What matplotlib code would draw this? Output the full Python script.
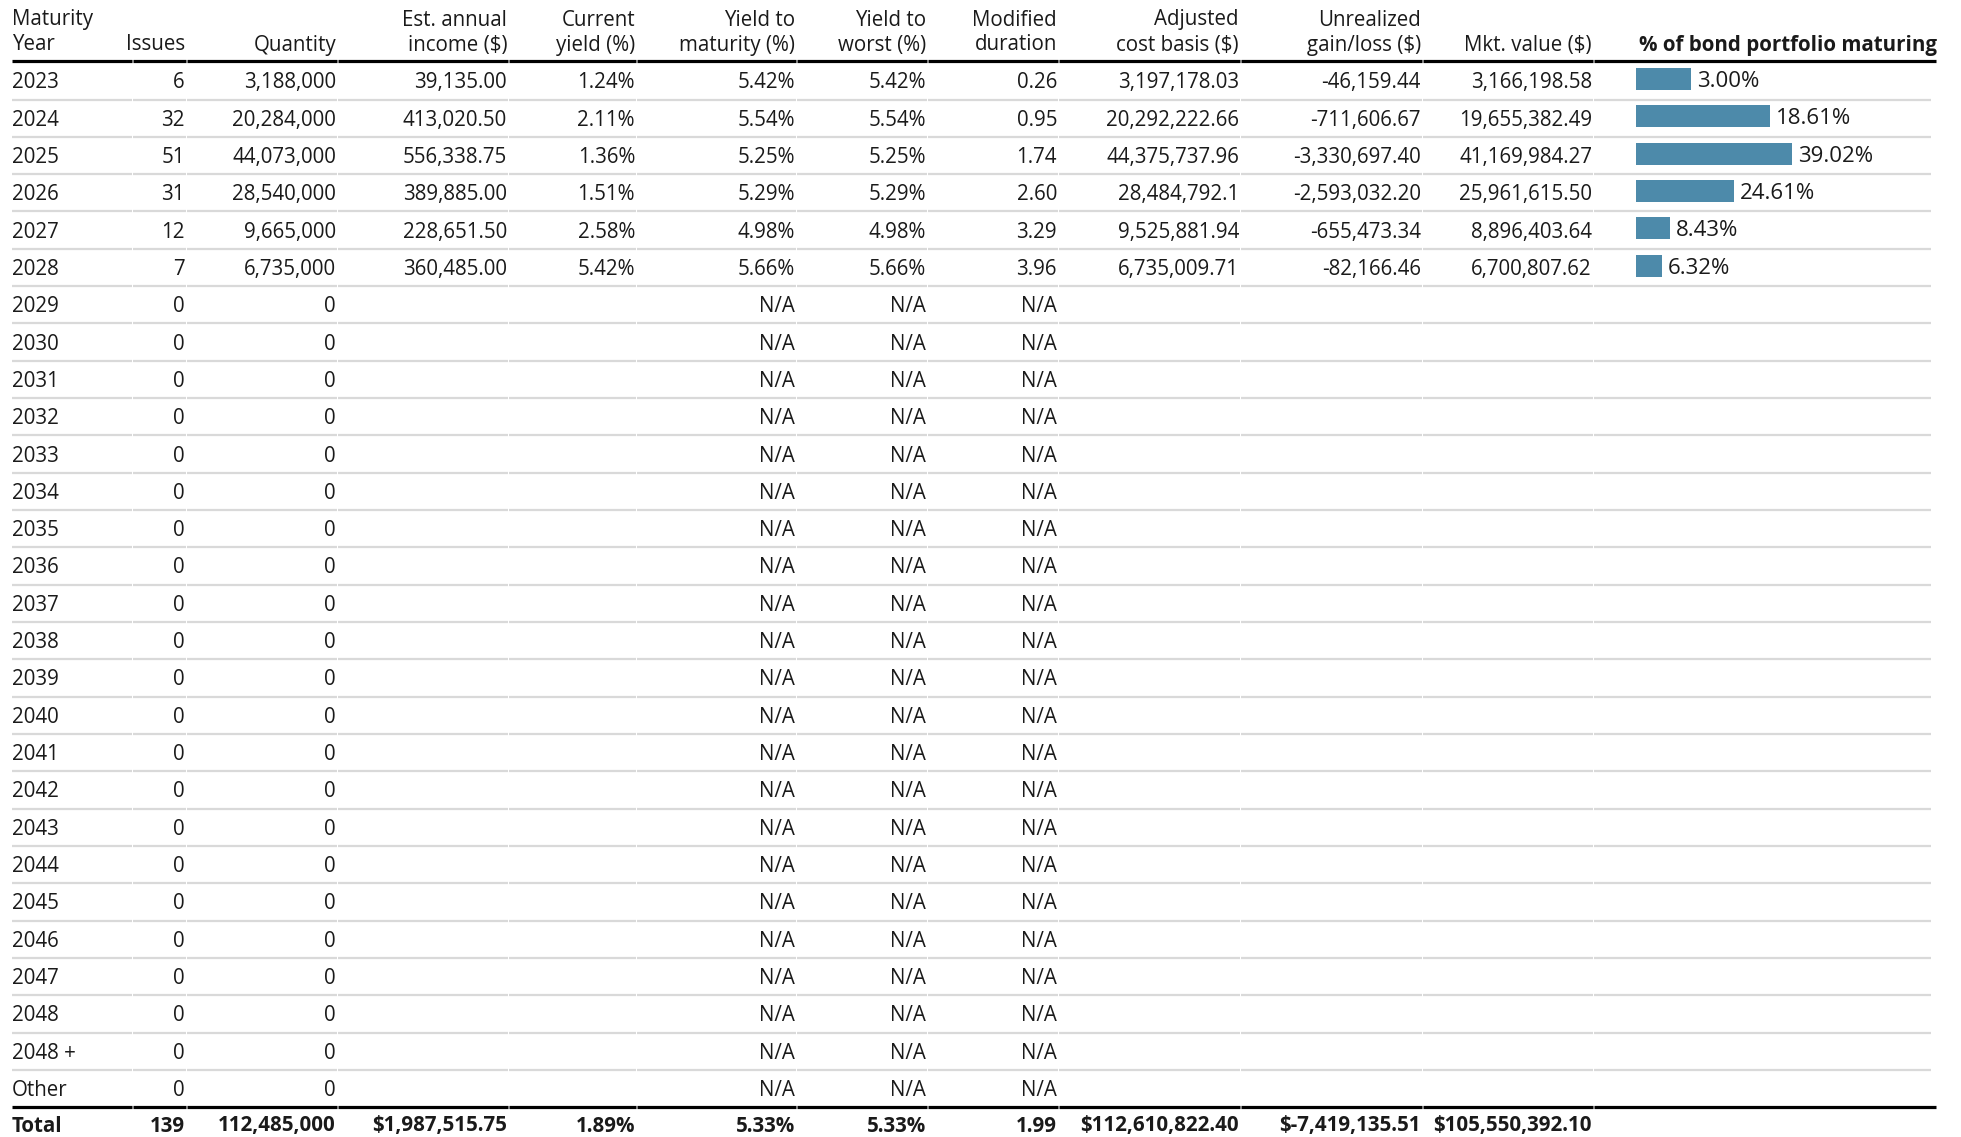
import matplotlib.pyplot as plt

# ---- data ----
years = [str(y) for y in range(2023, 2049)] + ['2048 +', 'Other']
issues = [6, 32, 51, 31, 12, 7] + [0] * 22
quantity = [3188000, 20284000, 44073000, 28540000, 9665000, 6735000] + [0] * 22
est_income = [39135.00, 413020.50, 556338.75, 389885.00, 228651.50, 360485.00]
current_yield = [1.24, 2.11, 1.36, 1.51, 2.58, 5.42]
ytm = [5.42, 5.54, 5.25, 5.29, 4.98, 5.66]
ytw = [5.42, 5.54, 5.25, 5.29, 4.98, 5.66]
mod_duration = [0.26, 0.95, 1.74, 2.60, 3.29, 3.96]
adj_cost = [3197178.03, 20292222.66, 44375737.96, 28484792.10, 9525881.94, 6735009.71]
unrealized = [-46159.44, -711606.67, -3330697.40, -2593032.20, -655473.34, -82166.46]
mkt_value = [3166198.58, 19655382.49, 41169984.27, 25961615.50, 8896403.64, 6700807.62]
pct_maturing = [3.00, 18.61, 39.02, 24.61, 8.43, 6.32]
bar_length = [13.75, 33.5, 39.0, 24.5, 8.5, 6.5]

totals = ['Total', '139', '112,485,000', '$1,987,515.75', '1.89%', '5.33%', '5.33%',
          '1.99', '$112,610,822.40', '$-7,419,135.51', '$105,550,392.10']

headers = [('Maturity', 'Year'), ('', 'Issues'), ('', 'Quantity'),
           ('Est. annual', 'income ($)'), ('Current', 'yield (%)'),
           ('Yield to', 'maturity (%)'), ('Yield to', 'worst (%)'),
           ('Modified', 'duration'), ('Adjusted', 'cost basis ($)'),
           ('Unrealized', 'gain/loss ($)'), ('', 'Mkt. value ($)')]

# ---- layout (pixels) ----
W, H = 1961, 1137
x_left = 12
right_edges = [None, 185, 336, 507, 635, 795, 926, 1057, 1239, 1421, 1592]
cell_bounds = [12, 133, 187, 338, 509, 637, 797, 928, 1059, 1241, 1423, 1594, 1932]
row_top = 81.0
row_h = 37.33
bar_x0 = 1636
px_per_unit = 4.0
text_col = '#1a1a1a'
bar_col = '#4d8aaa'
fs = 14.8

plt.rcParams['font.family'] = ['Open Sans', 'DejaVu Sans']

fig = plt.figure(figsize=(W / 100, H / 100), dpi=100)
ax = fig.add_axes([0, 0, 1, 1])
ax.set_xlim(0, W)
ax.set_ylim(H, 0)
ax.axis('off')


def fmt_money(v):
    return f'{v:,.2f}'


def row_cells(i):
    n = len(est_income)
    if i < n:
        return [years[i], str(issues[i]), f'{quantity[i]:,}', fmt_money(est_income[i]),
                f'{current_yield[i]:.2f}%', f'{ytm[i]:.2f}%', f'{ytw[i]:.2f}%',
                f'{mod_duration[i]:.2f}', fmt_money(adj_cost[i]).rstrip('0'),
                fmt_money(unrealized[i]), fmt_money(mkt_value[i])]
    return [years[i], str(issues[i]), f'{quantity[i]:,}', '', '', 'N/A', 'N/A', 'N/A',
            '', '', '']


def hline(y, color, lw, end):
    # each cell has its own border, leaving tiny gaps between columns
    bounds = cell_bounds[:-1] + [end]
    for a, b in zip(bounds[:-1], bounds[1:]):
        ax.plot([a, b - 1], [y, y], color=color, lw=lw, solid_capstyle='butt')


# header
for c, (l1, l2) in enumerate(headers):
    if c == 0:
        ax.text(x_left, 25.5, l1, ha='left', va='baseline', fontsize=fs, color=text_col)
        ax.text(x_left, 50.5, l2, ha='left', va='baseline', fontsize=fs, color=text_col)
    else:
        ax.text(right_edges[c], 25.5, l1, ha='right', va='baseline', fontsize=fs, color=text_col)
        ax.text(right_edges[c], 50.5, l2, ha='right', va='baseline', fontsize=fs, color=text_col)
ax.text(1639, 50.5, '% of bond portfolio maturing', ha='left', va='baseline',
        fontsize=fs, fontweight='bold', color=text_col)
hline(60.5, 'black', 2.3, 1937)

# body rows
for i in range(len(years)):
    yc = row_top + i * row_h
    base = yc + 7.2
    cells = row_cells(i)
    for c, s in enumerate(cells):
        if not s:
            continue
        if c == 0:
            ax.text(x_left, base, s, ha='left', va='baseline', fontsize=fs, color=text_col)
        else:
            ax.text(right_edges[c], base, s, ha='right', va='baseline', fontsize=fs, color=text_col)
    if i < len(years) - 1:
        hline(yc + 18.5, '#d9d9d9', 1.6, 1932)

# total row
y_tot_line = row_top + (len(years) - 1) * row_h + 18.5
hline(y_tot_line, 'black', 2.3, 1937)
for c, s in enumerate(totals):
    if c == 0:
        ax.text(x_left, 1131.5, s, ha='left', va='baseline', fontsize=fs,
                fontweight='bold', color=text_col)
    else:
        ax.text(right_edges[c], 1131.5, s, ha='right', va='baseline', fontsize=fs,
                fontweight='bold', color=text_col)

# bars in their own axes sharing the row scale
bax = fig.add_axes([0, 0, 1, 1], sharey=ax)
bax.set_xlim(-bar_x0 / px_per_unit, (W - bar_x0) / px_per_unit)
bax.patch.set_alpha(0)
bax.axis('off')
bar_y = [row_top - 2 + i * row_h for i in range(len(bar_length))]
bax.barh(bar_y, bar_length, height=21.7, left=0, color=bar_col)
for y, L, p in zip(bar_y, bar_length, pct_maturing):
    bax.text(L + 1.5, y + 8.0, f'{p:.2f}%', ha='left', va='baseline',
             fontsize=16, color=text_col)
bax.set_ylim(H, 0)

fig.savefig('out.png', dpi=100)
